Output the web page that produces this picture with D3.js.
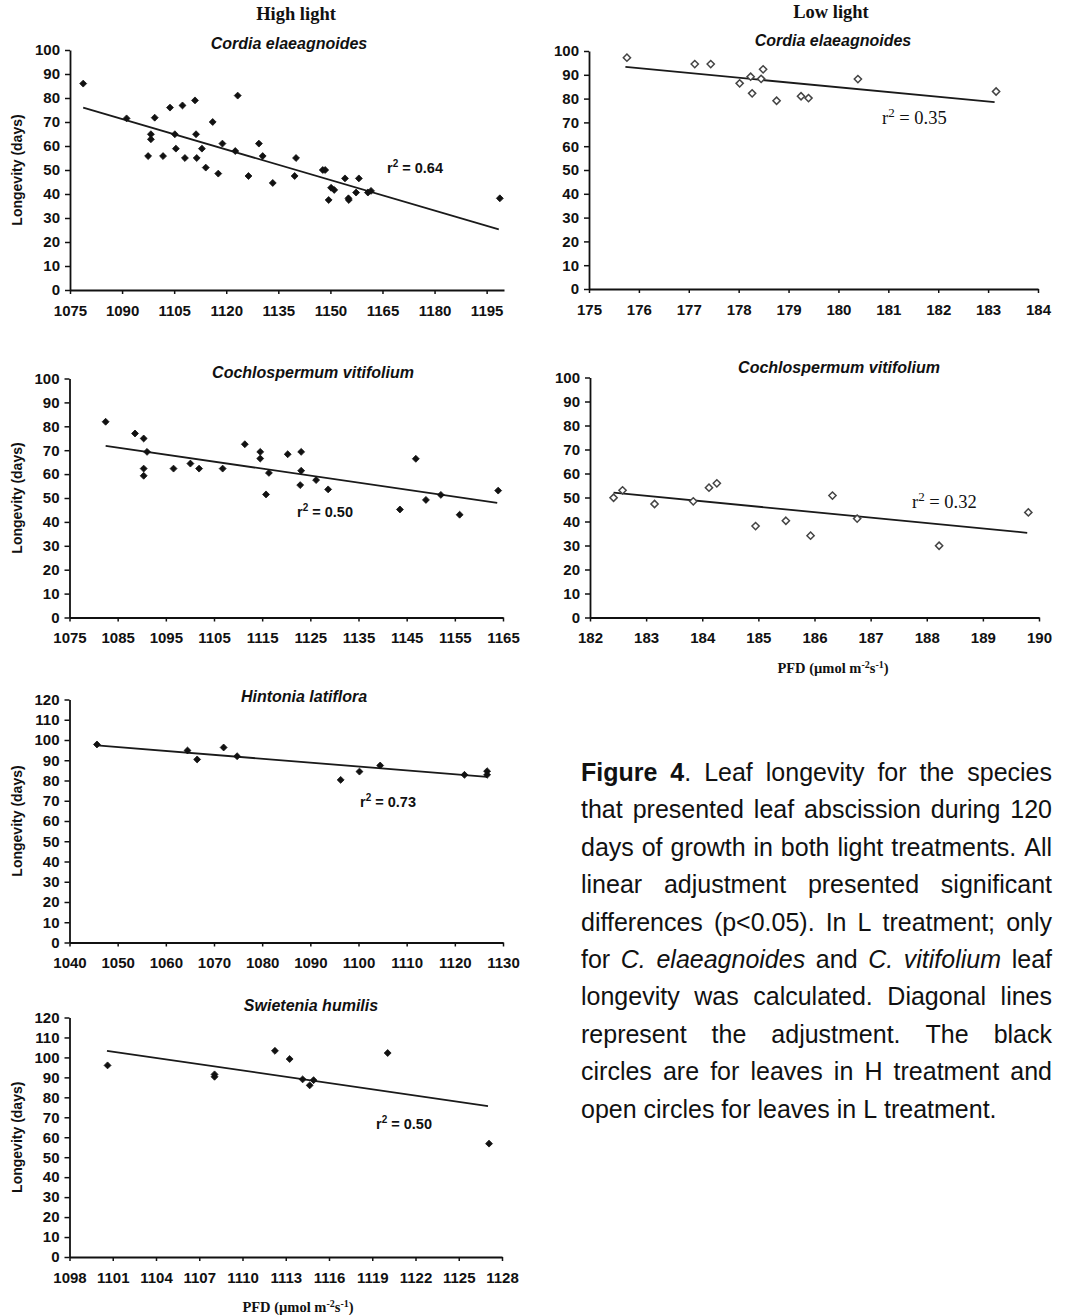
<!DOCTYPE html>
<html><head><meta charset="utf-8">
<script src="https://cdn.jsdelivr.net/npm/d3@7"></script>
<style>
body{margin:0;background:#fff;}
svg{display:block;background:#fff;}
</style></head><body>
<svg id="chart" width="1069" height="1315"></svg>
<script>
// ---------------- DATA ----------------
// Cordia elaeagnoides, high light
const ceHighPFD = [1078.8,1091.3,1098.3,1098.3,1097.5,1099.4,1101.8,1103.8,1105.2,1105.5,1107.4,1108.1,1111,1111.3,1111.5,1113,1114.1,1116.1,1117.7,1118.9,1122.6,1123.3,1126.4,1129.4,1130.5,1133.4,1139.7,1140.1,1147.8,1148.5,1149.5,1150.2,1151.1,1154.2,1155.2,1155.3,1157.4,1158.2,1160.8,1161.7,1198.8];
const ceHighLongevity = [86,71.5,64.9,62.8,55.8,71.8,55.8,76,64.9,58.9,76.9,55,79,64.9,55,58.9,51,70,48.5,61,57.9,81,47.5,61,55.8,44.6,47.5,55,50,50,37.5,42.6,41.7,46.5,38.2,37.5,40.6,46.5,40.6,41.3,38.2];
const ceHighTrendPFD = [1078.8,1198.5];
const ceHighTrendLongevity = [76,25.3];
const ceHighTicks = [1075,1090,1105,1120,1135,1150,1165,1180,1195];

// Cordia elaeagnoides, low light
const ceLowPFD = [175.76,177.12,177.44,178.02,178.24,178.27,178.45,178.49,178.76,179.25,179.40,180.39,183.16];
const ceLowLongevity = [97.2,94.5,94.5,86.4,89.2,82.2,88.3,92.3,79.1,81,80.2,88.2,83];
const ceLowTrendPFD = [175.73,183.13];
const ceLowTrendLongevity = [93.3,78.5];
const ceLowTicks = [175,176,177,178,179,180,181,182,183,184];

// Cochlospermum vitifolium, high light
const cvHighPFD = [1082.5,1088.6,1090.4,1091.1,1090.4,1090.4,1096.6,1100.1,1101.9,1106.8,1111.4,1114.6,1114.6,1116.4,1115.8,1120.3,1123.1,1123.1,1122.9,1126.2,1128.7,1143.6,1146.9,1149,1152.1,1156,1164];
const cvHighLongevity = [81.9,77,74.9,69.3,62.3,59.3,62.3,64.4,62.3,62.3,72.5,69.3,66.5,60.5,51.5,68.3,69.3,61.4,55.4,57.5,53.6,45.2,66.4,49.2,51.3,43,53.1];
const cvHighTrendPFD = [1082.5,1163.8];
const cvHighTrendLongevity = [71.8,48];
const cvHighTicks = [1075,1085,1095,1105,1115,1125,1135,1145,1155,1165];

// Cochlospermum vitifolium, low light
const cvLowPFD = [182.42,182.58,183.15,183.84,184.12,184.26,184.95,185.49,185.93,186.32,186.76,188.22,189.81];
const cvLowLongevity = [49.9,53,47.3,48.4,54.1,55.9,38.1,40.3,34.1,50.8,41.2,29.9,43.8];
const cvLowTrendPFD = [182.42,189.79];
const cvLowTrendLongevity = [52,35.3];
const cvLowTicks = [182,183,184,185,186,187,188,189,190];

// Hintonia latiflora, high light
const hlHighPFD = [1045.7,1064.5,1066.5,1072,1074.8,1096.3,1100.2,1104.5,1122,1126.7,1126.7];
const hlHighLongevity = [97.8,94.8,90.4,96.3,92,80.3,84.4,87.4,82.8,84.6,82.8];
const hlHighTrendPFD = [1045.7,1126.7];
const hlHighTrendLongevity = [97.3,81.8];
const hlHighTicks = [1040,1050,1060,1070,1080,1090,1100,1110,1120,1130];

// Swietenia humilis, high light
const shHighPFD = [1100.64,1108.06,1108.06,1112.25,1113.27,1114.17,1114.66,1114.93,1120.07,1127.1];
const shHighLongevity = [96,91.5,90.3,103.3,99.2,89,86,88.6,102.2,56.8];
const shHighTrendPFD = [1100.6,1127.03];
const shHighTrendLongevity = [103.3,75.6];
const shHighTicks = [1098,1101,1104,1107,1110,1113,1116,1119,1122,1125,1128];

const yTicks100 = [0,10,20,30,40,50,60,70,80,90,100];
const yTicks120 = [0,10,20,30,40,50,60,70,80,90,100,110,120];

const titles = ["Cordia elaeagnoides","Cordia elaeagnoides","Cochlospermum vitifolium","Cochlospermum vitifolium","Hintonia latiflora","Swietenia humilis"];
const r2Values = ["0.64","0.35","0.50","0.32","0.73","0.50"];

const captionLines = [
  "#Figure 4#. Leaf longevity for the species",
  "that presented leaf abscission during 120",
  "days of growth in both light treatments. All",
  "linear adjustment presented significant",
  "differences (p<0.05). In L treatment; only",
  "for *C. elaeagnoides* and *C. vitifolium* leaf",
  "longevity was calculated. Diagonal lines",
  "represent the adjustment. The black",
  "circles are for leaves in H treatment and",
  "open circles for leaves in L treatment."
];

// ---------------- DRAWING ----------------
const SANS = "'Liberation Sans', Arial, sans-serif";
const SERIF = "'Liberation Serif', 'Times New Roman', serif";
const svg = d3.select("#chart");

const diamond = {
  draw(ctx, size) {
    const r = Math.sqrt(size / 2);
    ctx.moveTo(0, -r); ctx.lineTo(r, 0); ctx.lineTo(0, r); ctx.lineTo(-r, 0); ctx.closePath();
  }
};

const panels = [
  {xs:ceHighPFD, ys:ceHighLongevity, tx:ceHighTrendPFD, ty:ceHighTrendLongevity, xTicks:ceHighTicks, yTicks:yTicks100, xDom:[1075,1200], yDom:[0,100],
   left:70, right:504, bottom:290, top:50, filled:true, titleX:289, titleY:49, r2X:387, r2Y:173, serif:false, yTitle:true, xTitle:false},
  {xs:ceLowPFD, ys:ceLowLongevity, tx:ceLowTrendPFD, ty:ceLowTrendLongevity, xTicks:ceLowTicks, yTicks:yTicks100, xDom:[175,184], yDom:[0,100],
   left:589, right:1038, bottom:289, top:51, filled:false, titleX:833, titleY:46, r2X:882, r2Y:124, serif:true, yTitle:false, xTitle:false},
  {xs:cvHighPFD, ys:cvHighLongevity, tx:cvHighTrendPFD, ty:cvHighTrendLongevity, xTicks:cvHighTicks, yTicks:yTicks100, xDom:[1075,1165], yDom:[0,100],
   left:69.5, right:503, bottom:617.5, top:378.5, filled:true, titleX:313, titleY:378, r2X:297, r2Y:517, serif:false, yTitle:true, xTitle:false},
  {xs:cvLowPFD, ys:cvLowLongevity, tx:cvLowTrendPFD, ty:cvLowTrendLongevity, xTicks:cvLowTicks, yTicks:yTicks100, xDom:[182,190], yDom:[0,100],
   left:590, right:1039, bottom:617.5, top:377.5, filled:false, titleX:839, titleY:373, r2X:912, r2Y:508, serif:true, yTitle:false, xTitle:true, xTitleX:833, xTitleY:673},
  {xs:hlHighPFD, ys:hlHighLongevity, tx:hlHighTrendPFD, ty:hlHighTrendLongevity, xTicks:hlHighTicks, yTicks:yTicks120, xDom:[1040,1130], yDom:[0,120],
   left:69.5, right:503, bottom:942.5, top:699.5, filled:true, titleX:304, titleY:702, r2X:360, r2Y:807, serif:false, yTitle:true, xTitle:false},
  {xs:shHighPFD, ys:shHighLongevity, tx:shHighTrendPFD, ty:shHighTrendLongevity, xTicks:shHighTicks, yTicks:yTicks120, xDom:[1098,1128], yDom:[0,120],
   left:69.5, right:502, bottom:1257, top:1017.5, filled:true, titleX:311, titleY:1011, r2X:376, r2Y:1129, serif:false, yTitle:true, xTitle:true, xTitleX:298, xTitleY:1312}
];

panels.forEach((p, i) => {
  const g = svg.append("g");
  const x = d3.scaleLinear().domain(p.xDom).range([p.left, p.right]);
  const y = d3.scaleLinear().domain(p.yDom).range([p.bottom, p.top]);

  // axes
  const xAxis = g.append("g").attr("transform", `translate(0,${p.bottom})`)
    .call(d3.axisBottom(x).tickValues(p.xTicks).tickFormat(d3.format("d")).tickSizeInner(4).tickSizeOuter(0).tickPadding(11));
  const yAxis = g.append("g").attr("transform", `translate(${p.left},0)`)
    .call(d3.axisLeft(y).tickValues(p.yTicks).tickFormat(d3.format("d")).tickSizeInner(5).tickSizeOuter(0).tickPadding(5));
  [xAxis, yAxis].forEach(a => {
    a.select(".domain").attr("stroke", "#111").attr("stroke-width", 1.8);
    a.selectAll(".tick line").attr("stroke", "#111").attr("stroke-width", 1.5);
    a.selectAll(".tick text").attr("fill", "#111").attr("font-family", SANS).attr("font-size", 15).attr("font-weight", "bold");
  });

  // trend line
  const trend = p.tx.map((v, k) => [v, p.ty[k]]);
  g.append("path").datum(trend)
    .attr("d", d3.line().x(d => x(d[0])).y(d => y(d[1])))
    .attr("fill", "none").attr("stroke", "#1a1a1a").attr("stroke-width", 1.8);

  // points
  const pts = p.xs.map((v, k) => [v, p.ys[k]]);
  g.selectAll("path.pt").data(pts).join("path").attr("class", "pt")
    .attr("transform", d => `translate(${x(d[0])},${y(d[1])})`)
    .attr("d", d3.symbol().type(diamond).size(p.filled ? 24 : 26))
    .attr("fill", p.filled ? "#111" : "#fff")
    .attr("stroke", p.filled ? "#111" : "#444")
    .attr("stroke-width", p.filled ? 0.8 : 1.5);

  // title
  g.append("text").attr("x", p.titleX).attr("y", p.titleY).attr("text-anchor", "middle")
    .attr("font-family", SANS).attr("font-size", 16).attr("font-weight", "bold").attr("font-style", "italic")
    .attr("fill", "#111").text(titles[i]);

  // r2 label
  const r2 = g.append("text").attr("x", p.r2X).attr("y", p.r2Y).attr("fill", "#111")
    .attr("font-family", p.serif ? SERIF : SANS).attr("font-size", p.serif ? 18.5 : 14.5)
    .attr("font-weight", p.serif ? "normal" : "bold");
  r2.append("tspan").text("r");
  r2.append("tspan").attr("font-size", p.serif ? 13 : 10).attr("dy", p.serif ? -7 : -6).text("2");
  r2.append("tspan").attr("dy", p.serif ? 7 : 6).text(" = " + r2Values[i]);

  // y-axis title
  if (p.yTitle) {
    g.append("text").attr("transform", `translate(22,${(p.top + p.bottom) / 2}) rotate(-90)`)
      .attr("text-anchor", "middle").attr("font-family", SANS).attr("font-size", 14).attr("font-weight", "bold")
      .attr("fill", "#111").text("Longevity (days)");
  }
  // x-axis title
  if (p.xTitle) {
    const t = g.append("text").attr("x", p.xTitleX).attr("y", p.xTitleY).attr("text-anchor", "middle")
      .attr("font-family", SERIF).attr("font-size", 14.5).attr("font-weight", "bold").attr("fill", "#111");
    t.append("tspan").text("PFD (\u00b5mol m");
    t.append("tspan").attr("font-size", 10).attr("dy", -5).text("-2");
    t.append("tspan").attr("dy", 5).text("s");
    t.append("tspan").attr("font-size", 10).attr("dy", -5).text("-1");
    t.append("tspan").attr("dy", 5).text(")");
  }
});

// column headers
svg.append("text").attr("x", 296).attr("y", 20).attr("text-anchor", "middle")
  .attr("font-family", SERIF).attr("font-size", 18.5).attr("font-weight", "bold").attr("fill", "#111").text("High light");
svg.append("text").attr("x", 831).attr("y", 18).attr("text-anchor", "middle")
  .attr("font-family", SERIF).attr("font-size", 18.5).attr("font-weight", "bold").attr("fill", "#111").text("Low light");

// caption (justified)
function parseLine(str) {
  const words = []; let runs = []; let cur = ""; let bold = false, ital = false;
  const flush = () => { if (cur) { runs.push({t: cur, b: bold, i: ital}); cur = ""; } };
  for (const ch of str) {
    if (ch === "#") { flush(); bold = !bold; }
    else if (ch === "*") { flush(); ital = !ital; }
    else if (ch === " ") { flush(); if (runs.length) words.push(runs); runs = []; }
    else cur += ch;
  }
  flush(); if (runs.length) words.push(runs);
  return words;
}
const capLeft = 581, capRight = 1052, capTop = 781, capStep = 37.4;
const cap = svg.append("g").attr("font-family", SANS).attr("font-size", 25).attr("fill", "#111");
captionLines.forEach((line, li) => {
  const words = parseLine(line);
  const yy = capTop + li * capStep;
  const nodes = words.map(runs => {
    const t = cap.append("text").attr("y", yy);
    runs.forEach(r => t.append("tspan").text(r.t)
      .attr("font-weight", r.b ? "bold" : null).attr("font-style", r.i ? "italic" : null));
    return t;
  });
  const widths = nodes.map(n => n.node().getComputedTextLength());
  const total = d3.sum(widths);
  const justify = li < captionLines.length - 1;
  const gap = justify ? (capRight - capLeft - total) / (nodes.length - 1) : 25 * 0.278;
  let xx = capLeft;
  nodes.forEach((n, k) => { n.attr("x", xx); xx += widths[k] + gap; });
});
</script>
</body></html>
